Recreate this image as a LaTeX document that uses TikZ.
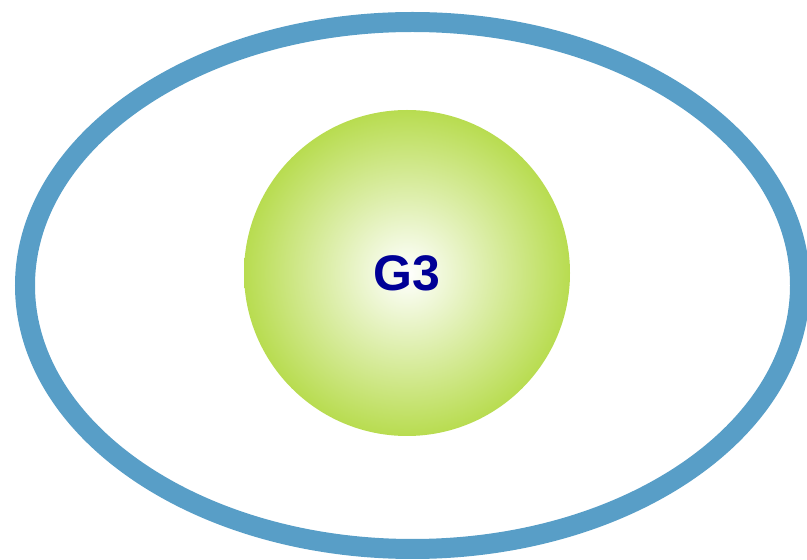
\documentclass[tikz,border=0pt]{standalone}
\usepackage{fontspec}
\setmainfont{Liberation Sans}
\usetikzlibrary{positioning,shapes.geometric}
\definecolor{ringblue}{RGB}{88,158,199}
\definecolor{ballgreen}{RGB}{184,220,80}
\definecolor{labelblue}{RGB}{0,0,150}

\begin{document}
\begin{tikzpicture}[
  x=1pt, y=1pt,
  ring/.style={ellipse, draw=ringblue, line width=20pt, minimum width=775pt, minimum height=527pt, inner sep=0pt},
  ball/.style={circle, minimum size=326pt, inner sep=0pt, inner color=white, outer color=ballgreen,
    font=\fontsize{50}{50}\selectfont\bfseries, text=labelblue}
]
\useasboundingbox (0,0) rectangle (807,560);
\node[ring] (outer) at (412.5,274.5) {};
\node[ball] (g3) at (407,287) {G3};
\end{tikzpicture}
\end{document}
